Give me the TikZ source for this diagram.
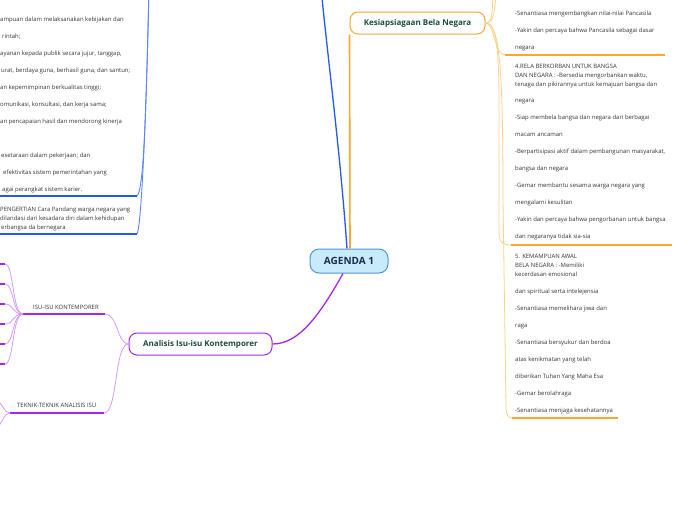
\documentclass[tikz,border=0pt]{standalone}
\usepackage{fontspec}
\setmainfont{Open Sans}
\definecolor{txtc}{HTML}{333333}
\definecolor{nodetxt}{HTML}{1B4D3E}
\definecolor{agtxt}{HTML}{1A2B4C}
\definecolor{agfill}{HTML}{C8EAFB}
\definecolor{agdraw}{HTML}{4A98D8}
\definecolor{bluec}{HTML}{2358F5}
\definecolor{bluelt}{HTML}{5C86FF}
\definecolor{orc}{HTML}{FFA530}
\definecolor{orlt}{HTML}{FFD08A}
\definecolor{puc}{HTML}{A526F0}
\definecolor{pult}{HTML}{D59AFF}
\begin{document}
\begin{tikzpicture}[x=1pt,y=-1pt,
  txt/.style={anchor=base west, inner sep=0pt, font=\fontsize{5.95}{6}\selectfont, text=txtc},
  topic/.style={rounded corners=8pt, fill=white, line width=1pt, inner sep=0pt,
     font=\fontsize{8}{9}\selectfont\bfseries, text=nodetxt},
  central/.style={rounded corners=9pt, fill=agfill, draw=agdraw, line width=1pt, inner sep=0pt,
     minimum width=78pt, minimum height=24pt, font=\fontsize{10}{11}\selectfont\bfseries, text=agtxt},
  bluethin/.style={draw=bluelt, line width=0.9pt},
  blueul/.style={draw=bluec, line width=1.5pt},
  orthin/.style={draw=orlt, line width=0.8pt},
  orul/.style={draw=orc, line width=2pt},
  puthin/.style={draw=pult, line width=0.8pt},
  puul/.style={draw=puc, line width=1.8pt}]
\useasboundingbox (0,0) rectangle (696,520);
\clip (0,0) rectangle (696,520);

% ---------- nodes ----------
\node[central] (ag) at (349,261) {AGENDA 1};
\node[topic, draw=orc, minimum width=135pt, minimum height=22pt] (kesi) at (417.5,23) {Kesiapsiagaan Bela Negara};
\node[topic, draw=puc, minimum width=143pt, minimum height=22pt] (anal) at (200.5,344) {Analisis Isu-isu Kontemporer};

% ---------- free ends ----------
\coordinate (bluetop) at (321,-12);
\coordinate (lbtop) at (149,-12);
\coordinate (lb1) at (137,196);
\coordinate (lb1e) at (-5,196);
\coordinate (lb2) at (137,234);
\coordinate (lb2e) at (-5,234);
\coordinate (ortopA) at (494,-12);
\coordinate (ortopB) at (497,-12);
\coordinate (r1) at (505,55);
\coordinate (r1e) at (665,55);
\coordinate (r2) at (511,245);
\coordinate (r2e) at (672,245);
\coordinate (r3) at (512,418);
\coordinate (r3e) at (618,418);
\coordinate (isu) at (105,314);
\coordinate (isue) at (23,314);
\coordinate (tek) at (104,413);
\coordinate (teke) at (10,413);

% ---------- main branches ----------
\draw[draw=bluec, line width=1.3pt] (ag.north -| 347,0) .. controls (340,150) and (328,60) .. (bluetop);
\draw[draw=orc, line width=1.6pt] (ag.north -| 350,0) -- (kesi.south west);
\draw[draw=puc, line width=1.3pt] (ag.south -| 343,0) .. controls (318,318) and (298,344) .. (anal.east);

% ---------- left blue ----------
\draw[bluethin] (lbtop) .. controls (146,110) and (144,190) .. (lb1);
\draw[bluethin] (lbtop) .. controls (146,130) and (141,228) .. (lb2);
\draw[blueul] (lb1) -- (lb1e);
\draw[blueul] (lb2) -- (lb2e);

\foreach \yy/\xx/\tt [count=\i] in {
  20/0/{ampuan dalam melaksanakan kebijakan dan},
  37/2/{rintah;},
  54/0/{ayanan kepada publik secara jujur, tanggap,},
  71/1/{urat, berdaya guna, berhasil guna, dan santun;},
  88/0/{an kepemimpinan berkualitas tinggi;},
  105/0/{omunikasi, konsultasi, dan kerja sama;},
  122/0/{an pencapaian hasil dan mendorong kinerja},
  156/1/{esetaraan dalam pekerjaan; dan},
  173/3/{efektivitas sistem pemerintahan yang},
  190/2/{agai perangkat sistem karier.},
  210/0/{PENGERTIAN Cara Pandang warga negara yang},
  219/0/{dilandasi dari kesadara diri dalam kehidupan},
  228/1/{erbangsa da bernegara}}
  \node[txt] (lt\i) at (\xx,\yy+1.5) {\tt};

% ---------- right orange ----------
\draw[orthin] (kesi.east) .. controls (494,23) and (491,10) .. (ortopA);
\draw[orthin] (kesi.east) .. controls (495,23) and (494,10) .. (ortopB);
\draw[orthin] (kesi.east) .. controls (495,23) and (494,55) .. (r1);
\draw[orthin] (kesi.east) .. controls (497,23) and (499,50) .. (499,110) -- (499,232) .. controls (499,243) and (503,245) .. (r2);
\draw[orthin] (kesi.east) .. controls (499,23) and (503,60) .. (503,200) -- (506,405) .. controls (506,415) and (508,418) .. (r3);
\draw[orul] (r1) -- (r1e);
\draw[orul] (r2) -- (r2e);
\draw[orul] (r3) -- (r3e);

\foreach \yy/\tt [count=\i] in {
  14/{-Senantiasa mengembangkan nilai-nilai Pancasila},
  31/{-Yakin dan percaya bahwa Pancasila sebagai dasar},
  48/{negara},
  67/{4.RELA BERKORBAN UNTUK BANGSA},
  76/{DAN NEGARA : -Bersedia mengorbankan waktu,},
  85/{tenaga dan pikirannya untuk kemajuan bangsa dan},
  101/{negara},
  118/{-Siap membela bangsa dan negara dari berbagai},
  135/{macam ancaman},
  152/{-Berpartisipasi aktif dalam pembangunan masyarakat,},
  169/{bangsa dan negara},
  186/{-Gemar membantu sesama warga negara yang},
  203/{mengalami kesulitan},
  220/{-Yakin dan percaya bahwa pengorbanan untuk bangsa},
  237/{dan negaranya tidak sia-sia},
  257/{5. KEMAMPUAN AWAL},
  266/{BELA NEGARA : -Memiliki},
  275/{kecerdasan emosional},
  292/{dan spiritual serta intelejensia},
  309/{-Senantiasa memelihara jiwa dan},
  326/{raga},
  343/{-Senantiasa bersyukur dan berdoa},
  360/{atas kenikmatan yang telah},
  377/{diberikan Tuhan Yang Maha Esa},
  394/{-Gemar berolahraga},
  411/{-Senantiasa menjaga kesehatannya}}
  \node[txt] (rt\i) at (515,\yy+1.5) {\tt};

% ---------- left purple ----------
\draw[puthin] (anal.west) .. controls (117,344) and (118,314) .. (isu);
\draw[puthin] (anal.west) .. controls (114,344) and (118,413) .. (tek);
\draw[puul] (isu) -- (isue);
\draw[puul] (tek) -- (teke);
\node[txt] (isul) at (33,309.5) {ISU-ISU KONTEMPORER};
\node[txt] (tekl) at (17,407.5) {TEKNIK-TEKNIK ANALISIS ISU};

\foreach \yy [count=\i] in {264,284,304,324,344,364} {
  \coordinate (it\i) at (5,\yy);
  \coordinate (ite\i) at (-5,\yy);
  \draw[puthin] (isue) .. controls (12,314) and (14,\yy) .. (it\i);
  \draw[puul] (it\i) -- (ite\i);
}
\coordinate (tu) at (-3,400);
\coordinate (td) at (-3,428);
\draw[puthin] (teke) .. controls (4,413) and (3,404) .. (tu);
\draw[puthin] (teke) .. controls (4,413) and (3,422) .. (td);
\end{tikzpicture}
\end{document}
